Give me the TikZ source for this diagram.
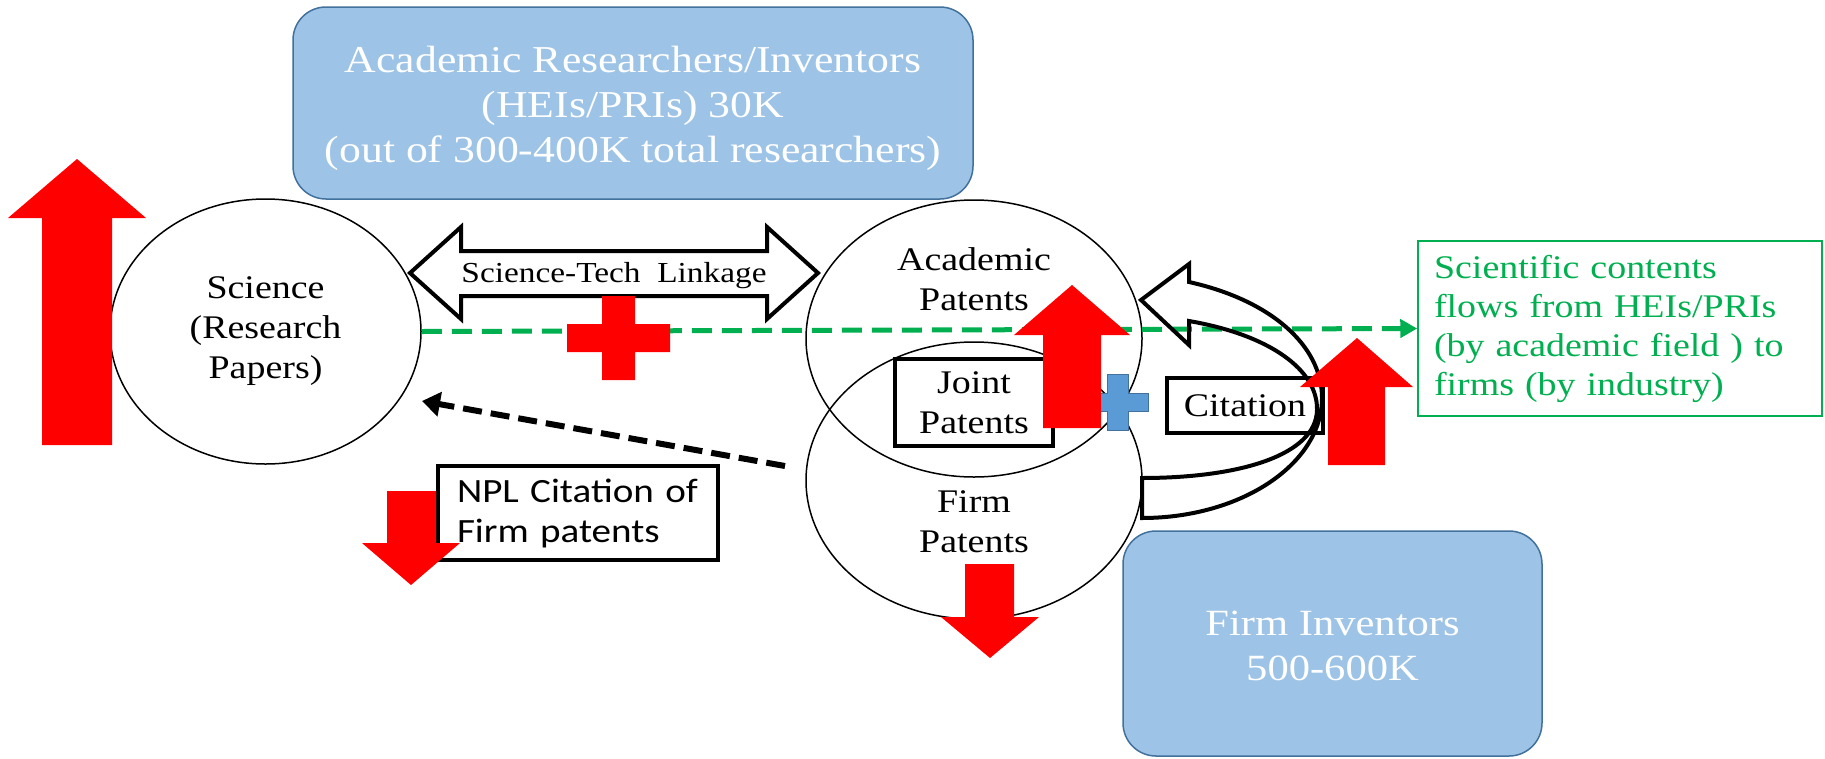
\documentclass[tikz,border=0pt]{standalone}
\usepackage{fontspec}
\setmainfont{Liberation Serif}[FakeStretch=1.15]
\newfontfamily\notefont{Carlito}[FakeStretch=1.15]
\usetikzlibrary{shapes.geometric,arrows.meta}
\definecolor{boxblue}{HTML}{9DC3E6}
\definecolor{boxedge}{HTML}{41719C}
\definecolor{flowgreen}{HTML}{00B050}
\definecolor{plusblue}{HTML}{5B9BD5}
\definecolor{signred}{HTML}{FF0000}

\begin{document}
\begin{tikzpicture}[x=1pt,y=-1pt,
  bluebox/.style={draw=boxedge, line width=1.5pt, fill=boxblue, rounded corners=33pt, inner sep=0pt},
  boxtext/.style={text=white, align=center, inner sep=0pt},
  oval/.style={ellipse, draw, line width=1.5pt, inner sep=0pt, align=center, font=\fontsize{33}{40}\selectfont},
  celltext/.style={align=center, inner sep=0pt, font=\fontsize{33}{40}\selectfont},
  textframe/.style={draw, line width=4pt, fill=white, inner sep=0pt, align=center, font=\fontsize{33}{40}\selectfont},
  greenflow/.style={draw=flowgreen, line width=5pt, dash pattern=on 20pt off 10pt, -{Triangle[length=17pt,width=18pt]}},
  citeflow/.style={draw=black, line width=6pt, dash pattern=on 19pt off 9pt, -{Triangle[length=18pt,width=24pt]}},
  hollowarrow/.style={draw=black, line width=4pt, line join=miter},
  redsign/.style={fill=signred},
]
% canvas
\fill[white] (0,0) rectangle (1825,758);
\useasboundingbox (0,0) rectangle (1825,758);

% population boxes
\node[bluebox, minimum width=680pt, minimum height=192pt] (acadbox) at (633,103) {};
\node[boxtext, font=\fontsize{38}{45}\selectfont] (acadtxt) at (633,108)
  {Academic Researchers/Inventors\\(HEIs/PRIs) 30K\\(out of 300-400K total researchers)};

% science and patent ovals
\node[oval, minimum width=311pt, minimum height=265pt] (sci) at (265.5,331.5) {Science\\(Research\\Papers)};
\node[oval, minimum width=336pt, minimum height=277pt] (acadpat) at (974,338.5) {};
\node[oval, minimum width=336pt, minimum height=277pt] (firmpat) at (974,480.5) {};
\node[celltext] (acadlbl) at (974,279) {Academic\\Patents};
\node[celltext] (firmlbl) at (974,522) {Firm\\Patents};

\node[bluebox, minimum width=419pt, minimum height=225pt] (firmbox) at (1332.5,643.5) {};
\node[boxtext, font=\fontsize{37}{45}\selectfont] (firmtxt) at (1332.5,646) {Firm Inventors\\500-600K};

% framed labels
\node[textframe, minimum width=158pt, minimum height=87pt] (joint) at (974,402.5) {Joint\\Patents};
\node[textframe, minimum width=156pt, minimum height=55pt] (cite) at (1245,405.5) {Citation};
\node[draw, line width=3.5pt, fill=white, text width=242pt, inner xsep=19pt, inner ysep=0pt,
      minimum height=94pt, align=left, font=\notefont\fontsize{34}{40}\selectfont] (npl) at (578,513)
  {NPL Citation of\\Firm patents};
\node[draw=flowgreen, line width=1.5pt, text=flowgreen, text width=372pt, inner xsep=16pt, inner ysep=0pt,
      minimum height=175pt, align=left, font=\fontsize{33}{39}\selectfont] (flow) at (1620,328.5)
  {Scientific contents\\flows from HEIs/PRIs\\(by academic field ) to\\firms (by industry)};

% knowledge flow
\draw[greenflow] (sci.east) -- (flow.west);

% science-technology linkage
\draw[hollowarrow, fill=white] (410,273) -- (461,227) -- (461,251) -- (767,251) -- (767,227) -- (818,273)
  -- (767,319) -- (767,296) -- (461,296) -- (461,319) -- cycle;
\node[font=\fontsize{29}{34}\selectfont, inner sep=0pt] (linktxt) at (614,276) {Science-Tech\ \ Linkage};

% non-patent literature citations
\coordinate (npltail) at (785,466);
\coordinate (npltip) at (422,401);
\draw[citeflow] (npltail) -- (npltip);

% curved citation arrow
\draw[hollowarrow] (1189,282) .. controls (1270,300) and (1322,345) .. (1322,398)
  .. controls (1322,464) and (1241,518) .. (1142,518) -- (1142,478)
  .. controls (1240,478) and (1316,455) .. (1317,410)
  .. controls (1318,370) and (1270,335) .. (1189,321)
  -- (1189,345) -- (1141,300) -- (1189,264) -- cycle;

% blue plus
\draw[draw=boxedge, line width=1pt, fill=plusblue] (1107,374) -- (1128,374) -- (1128,393) -- (1148,393)
  -- (1148,411) -- (1128,411) -- (1128,430) -- (1107,430) -- (1107,411) -- (1087,411) -- (1087,393)
  -- (1107,393) -- cycle;

% red growth / decline markers
\fill[redsign] (42,445) -- (42,218) -- (8,218) -- (77,159) -- (146,218) -- (112,218) -- (112,445) -- cycle;
\fill[redsign] (1043,428) -- (1043,335) -- (1014,335) -- (1072,285) -- (1130,335) -- (1101,335) -- (1101,428) -- cycle;
\fill[redsign] (1328,465) -- (1328,387) -- (1300,387) -- (1357,338) -- (1413,387) -- (1385,387) -- (1385,465) -- cycle;
\fill[redsign] (387,491) -- (436,491) -- (436,543) -- (460,543) -- (411,585) -- (362,543) -- (387,543) -- cycle;
\fill[redsign] (965,564) -- (1014,564) -- (1014,617) -- (1039,617) -- (990,658) -- (941,617) -- (965,617) -- cycle;
\fill[redsign] (602,296) -- (635,296) -- (635,324) -- (670,324) -- (670,352) -- (635,352) -- (635,380)
  -- (602,380) -- (602,352) -- (567,352) -- (567,324) -- (602,324) -- cycle;
\end{tikzpicture}
\end{document}
